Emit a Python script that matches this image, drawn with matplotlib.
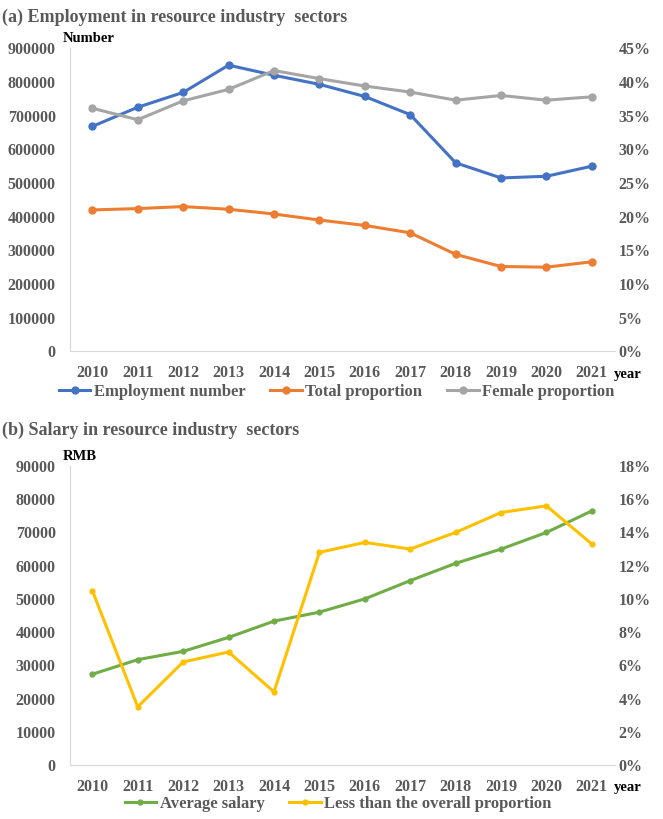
import matplotlib.pyplot as plt
from matplotlib.ticker import FuncFormatter

years = [str(y) for y in range(2010, 2022)]

# (a) employment
employment_number = [668000, 725000, 769000, 850000, 820000, 793000, 757000, 703000, 560000, 515000, 520000, 550000]
total_proportion = [21.0, 21.2, 21.5, 21.1, 20.4, 19.5, 18.7, 17.6, 14.4, 12.6, 12.5, 13.3]
female_proportion = [36.1, 34.4, 37.2, 38.9, 41.7, 40.5, 39.4, 38.5, 37.3, 38.0, 37.3, 37.8]

# (b) salary
average_salary = [27300, 31700, 34200, 38400, 43300, 46000, 50000, 55500, 60700, 65000, 70000, 76500]
less_than_overall = [10.5, 3.5, 6.2, 6.8, 4.4, 12.8, 13.4, 13.0, 14.0, 15.2, 15.6, 13.3]

plt.rcParams['font.family'] = ['Liberation Serif', 'DejaVu Serif']
plt.rcParams['font.weight'] = 'bold'
GRAY = '#595959'
AXC = '#d9d9d9'

fig = plt.figure(figsize=(6.63, 8.19), dpi=100)


def style(ax, ax2, ymax, ystep, pmax, pstep, unit):
    x = range(len(years))
    ax.set_xlim(-0.5, len(years) - 0.5)
    ax.set_ylim(0, ymax)
    ax.set_yticks(range(0, ymax + 1, ystep))
    ax2.set_ylim(0, pmax)
    ax2.set_yticks([i * pstep for i in range(int(pmax / pstep) + 1)])
    ax2.yaxis.set_major_formatter(FuncFormatter(lambda v, p: f"{v:.0f}%"))
    ax.set_xticks(list(x))
    ax.set_xticklabels(years)
    for a in (ax, ax2):
        for s in a.spines.values():
            s.set_visible(False)
        a.tick_params(length=0, labelsize=11.5, labelcolor=GRAY)
    ax.spines['left'].set_visible(True)
    ax.spines['left'].set_color(AXC)
    ax.spines['bottom'].set_visible(True)
    ax.spines['bottom'].set_color(AXC)
    ax.tick_params(axis='x', pad=10)
    ax.tick_params(axis='y', pad=10)
    ax2.tick_params(axis='y', pad=3)
    ax.text(-0.012, 1.01, unit, transform=ax.transAxes, fontsize=10.5, color='black',
            ha='left', va='bottom')
    ax.text(0.998, -0.075, 'year', transform=ax.transAxes, fontsize=10.5, color='black',
            ha='left', va='center')


# panel a
ax = fig.add_axes([0.105, 0.571, 0.822, 0.370])
ax2 = ax.twinx()
x = range(len(years))
l1, = ax.plot(x, employment_number, color='#4472C4', lw=2.2, marker='o', ms=5, label='Employment number')
l2, = ax2.plot(x, total_proportion, color='#ED7D31', lw=2.2, marker='o', ms=5, label='Total proportion')
l3, = ax2.plot(x, female_proportion, color='#A5A5A5', lw=2.2, marker='o', ms=5, label='Female proportion')
style(ax, ax2, 900000, 100000, 45, 5, 'Number')
fig.text(0.003, 0.979, '(a) Employment in resource industry  sectors', fontsize=13, color=GRAY,
         ha='left', va='center')
fig.legend([l1, l2, l3], [l.get_label() for l in (l1, l2, l3)], loc='center',
           bbox_to_anchor=(0.508, 0.521), ncol=3, frameon=False, fontsize=12,
           labelcolor=GRAY, handlelength=1.9, columnspacing=1.5, handletextpad=0.2)

# panel b
bx = fig.add_axes([0.105, 0.066, 0.822, 0.365])
bx2 = bx.twinx()
m1, = bx.plot(x, average_salary, color='#70AD47', lw=2.2, marker='o', ms=3.5, label='Average salary')
m2, = bx2.plot(x, less_than_overall, color='#FFC000', lw=2.2, marker='o', ms=3.5,
               label='Less than the overall proportion')
style(bx, bx2, 90000, 10000, 18, 2, 'RMB')
fig.text(0.003, 0.475, '(b) Salary in resource industry  sectors', fontsize=13, color=GRAY,
         ha='left', va='center')
fig.legend([m1, m2], [m1.get_label(), m2.get_label()], loc='center',
           bbox_to_anchor=(0.51, 0.018), ncol=2, frameon=False, fontsize=12,
           labelcolor=GRAY, handlelength=1.9, columnspacing=1.5, handletextpad=0.2)

fig.savefig('out.png', dpi=100)
